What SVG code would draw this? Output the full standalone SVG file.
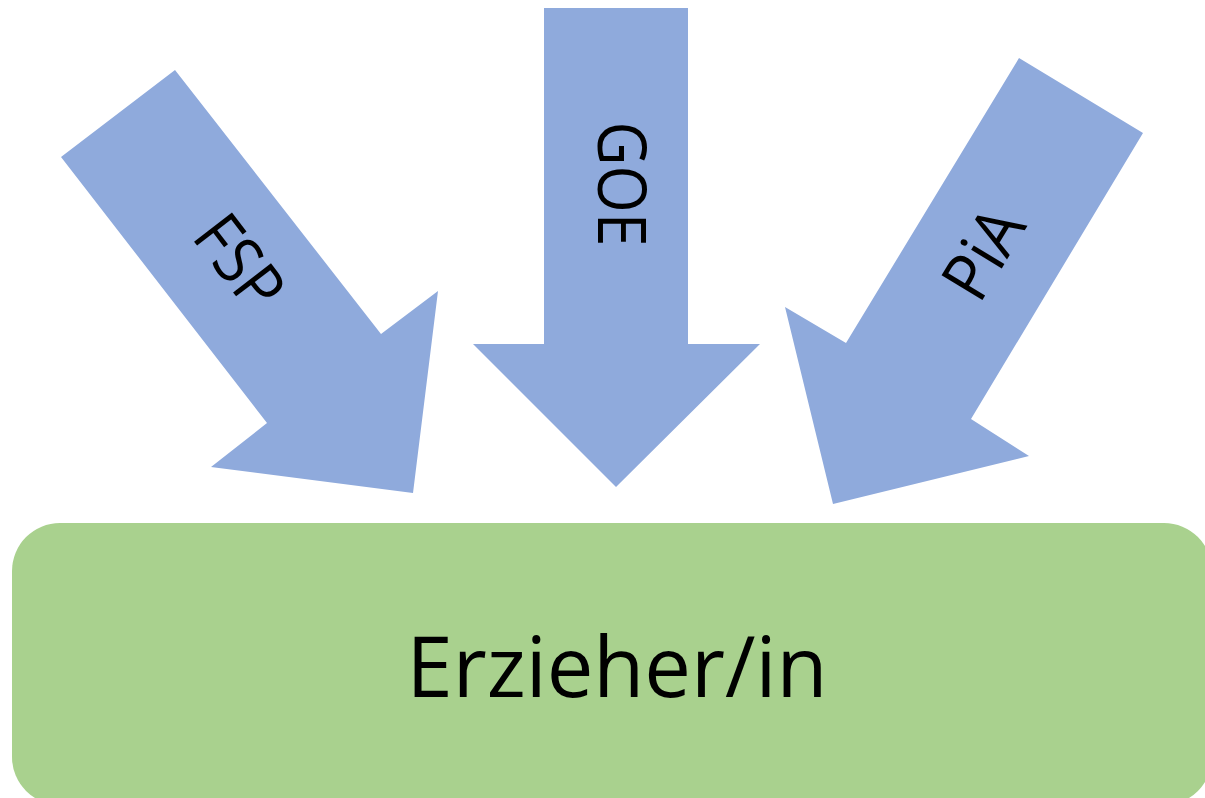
<svg xmlns="http://www.w3.org/2000/svg" width="1205" height="798" viewBox="0 0 1205 798">
<style>
.arrow{fill:#8faadc;}
.box{fill:#a9d18e;}
.lbl{font-family:"Open Sans","Liberation Sans",sans-serif;fill:#000;}
</style>
<rect width="1205" height="798" fill="#ffffff"/>
<g id="erzieher">
<rect class="box" x="12" y="523" width="1200" height="282" rx="48" ry="48"/>
<text class="lbl" x="617" y="697" font-size="84" text-anchor="middle" textLength="421" lengthAdjust="spacingAndGlyphs">Erzieher/in</text>
</g>
<g id="connectors">
<g id="fsp">
<polygon class="arrow" points="61,157 175,70 381,334 438,291 413,493 211,467 267,423"/>
<g transform="translate(240,262) rotate(52.5)">
<text class="lbl" x="0" y="24" font-size="67" text-anchor="middle" textLength="100" lengthAdjust="spacingAndGlyphs">FSP</text>
</g>
</g>
<g id="goe">
<polygon class="arrow" points="544,8 688,8 688,344 760,344 616,487 473,344 544,344"/>
<g transform="translate(622,184) rotate(90)">
<text class="lbl" x="0" y="24" font-size="67" text-anchor="middle" textLength="125" lengthAdjust="spacingAndGlyphs">GOE</text>
</g>
</g>
<g id="pia">
<polygon class="arrow" points="1019,58 1143,133 971,419 1029,456 833,504 785,307 846,343"/>
<g transform="translate(983,253) rotate(-58.7)">
<text class="lbl" x="0" y="24" font-size="67" text-anchor="middle" textLength="93" lengthAdjust="spacingAndGlyphs">PiA</text>
</g>
</g>
</g>
</svg>
